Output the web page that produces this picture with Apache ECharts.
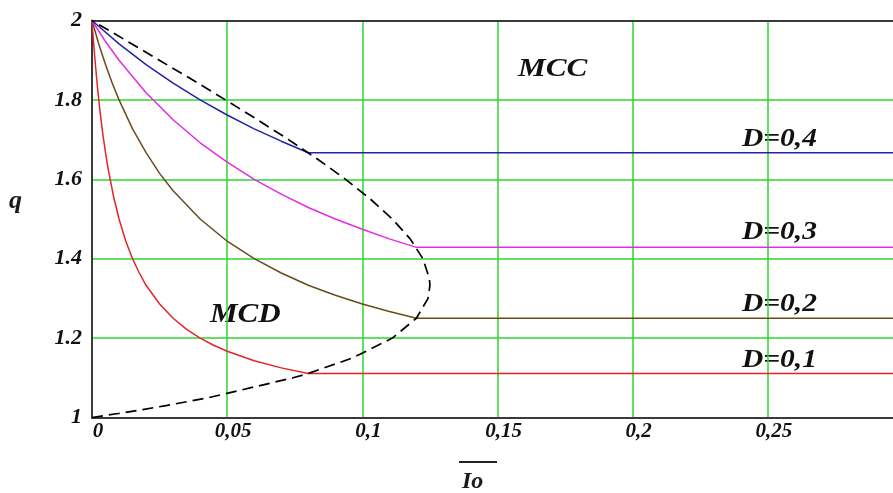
<!DOCTYPE html>
<html>
<head>
<meta charset="utf-8">
<script src="https://cdn.jsdelivr.net/npm/echarts@6/dist/echarts.min.js"></script>
<style>
html,body{margin:0;padding:0;background:#fff;}
#c{width:893px;height:493px;}
</style>
</head>
<body>
<div id="c"></div>
<script>
// x ticks and y ticks
var xTickLabels = ['0', '0,05', '0,1', '0,15', '0,2', '0,25'];
var yTickLabels = ['1', '1.2', '1.4', '1.6', '1.8', '2'];

// D = 0.1 (red)
var ioD1 = [0, 0.0005, 0.001, 0.002, 0.003, 0.004, 0.005, 0.006, 0.008, 0.01, 0.0125, 0.015, 0.0175, 0.02, 0.025, 0.03, 0.035, 0.04, 0.045, 0.05, 0.06, 0.07, 0.08, 0.3];
var qD1  = [2, 1.952, 1.909, 1.833, 1.769, 1.714, 1.667, 1.625, 1.556, 1.5, 1.444, 1.4, 1.364, 1.333, 1.286, 1.25, 1.222, 1.2, 1.182, 1.167, 1.143, 1.125, 1.111, 1.111];
// D = 0.2 (brown)
var ioD2 = [0, 0.0025, 0.005, 0.0075, 0.01, 0.015, 0.02, 0.025, 0.03, 0.04, 0.05, 0.06, 0.07, 0.08, 0.09, 0.1, 0.11, 0.12, 0.3];
var qD2  = [2, 1.941, 1.889, 1.842, 1.8, 1.727, 1.667, 1.615, 1.571, 1.5, 1.444, 1.4, 1.364, 1.333, 1.308, 1.286, 1.267, 1.25, 1.25];
// D = 0.3 (magenta)
var ioD3 = [0, 0.005, 0.01, 0.02, 0.03, 0.04, 0.05, 0.06, 0.07, 0.08, 0.09, 0.1, 0.11, 0.12, 0.3];
var qD3  = [2, 1.947, 1.9, 1.818, 1.75, 1.692, 1.643, 1.6, 1.5625, 1.529, 1.5, 1.474, 1.45, 1.4286, 1.4286];
// D = 0.4 (blue)
var ioD4 = [0, 0.01, 0.02, 0.03, 0.04, 0.05, 0.06, 0.07, 0.08, 0.3];
var qD4  = [2, 1.941, 1.889, 1.842, 1.8, 1.762, 1.727, 1.696, 1.667, 1.667];
// MCC / MCD boundary (dashed)
var ioB = [0, 0.0097, 0.0188, 0.0274, 0.0431, 0.0744, 0.08, 0.0964, 0.1111, 0.12, 0.1243, 0.125, 0.1248, 0.1224, 0.1177, 0.1111, 0.103, 0.0938, 0.0836, 0.0727, 0.0612, 0.0494, 0.0373, 0.0249, 0.0125, 0];
var qB  = [1, 1.01, 1.02, 1.03, 1.05, 1.1, 1.111, 1.15, 1.2, 1.25, 1.3, 1.333, 1.35, 1.4, 1.45, 1.5, 1.55, 1.6, 1.65, 1.7, 1.75, 1.8, 1.85, 1.9, 1.95, 2];

function zip(a, b) { return a.map(function (v, i) { return [v, b[i]]; }); }

var serif = '"Liberation Serif", "Times New Roman", serif';
var chart = echarts.init(document.getElementById('c'), null, {renderer: 'canvas'});

function lineSeries(name, data, color, dashed) {
  return {
    name: name, type: 'line', data: data, showSymbol: false, symbol: 'none',
    smooth: false, animation: false, clip: true,
    lineStyle: {color: color, width: dashed ? 1.7 : 1.5, type: dashed ? [11, 6] : 'solid'},
    z: dashed ? 4 : 3
  };
}

chart.setOption({
  animation: false,
  backgroundColor: '#ffffff',
  grid: {left: 92, top: 20.5, right: 0, bottom: 75.5, show: false},
  xAxis: [{
    type: 'value', min: 0, max: 0.2963, interval: 0.05,
    axisLine: {show: true, onZero: false, lineStyle: {color: '#3a3a3a', width: 2}}, axisTick: {show: false},
    splitLine: {show: true, showMinLine: false, showMaxLine: false, lineStyle: {color: '#2fd42f', width: 1.5}},
    axisLabel: {
      margin: 4, color: '#111', fontFamily: serif, fontStyle: 'italic', fontWeight: 'bold', fontSize: 21,
      padding: [0, 0, 0, 12], showMaxLabel: false,
      formatter: function (v) { var i = Math.round(v / 0.05); return Math.abs(v - i * 0.05) < 1e-6 ? xTickLabels[i] : ''; }
    }
  }, {
    type: 'value', position: 'top', min: 0, max: 0.2963,
    axisLine: {show: true, onZero: false, lineStyle: {color: '#3a3a3a', width: 2}},
    axisTick: {show: false}, axisLabel: {show: false}, splitLine: {show: false}
  }],
  yAxis: {
    type: 'value', min: 1, max: 2, interval: 0.2,
    axisLine: {show: true, onZero: false, lineStyle: {color: '#3a3a3a', width: 2}}, axisTick: {show: false},
    splitLine: {show: true, showMinLine: false, showMaxLine: false, lineStyle: {color: '#2fd42f', width: 1.5}},
    axisLabel: {
      margin: 10, color: '#111', fontFamily: serif, fontStyle: 'italic', fontWeight: 'bold', fontSize: 22,
      formatter: function (v) { return yTickLabels[Math.round((v - 1) / 0.2)]; }
    }
  },
  series: [
    lineSeries('D=0,1', zip(ioD1, qD1), '#e3242b', false),
    lineSeries('D=0,2', zip(ioD2, qD2), '#6b4a1c', false),
    lineSeries('D=0,3', zip(ioD3, qD3), '#e62ae6', false),
    lineSeries('D=0,4', zip(ioD4, qD4), '#2222a8', false),
    lineSeries('boundary', zip(ioB, qB), '#000000', true)
  ],
  graphic: [
    {type: 'text', left: 9, top: 188, style: {text: 'q', font: 'italic bold 26px ' + serif, fill: '#1a1a1a'}},
    {type: 'line', shape: {x1: 459, y1: 462, x2: 497, y2: 462}, style: {stroke: '#222', lineWidth: 2}},
    {type: 'text', x: 462, y: 470, style: {text: 'Io', font: 'italic bold 24px ' + serif, fill: '#1a1a1a'}},
    {type: 'text', x: 518, y: 56, scaleX: 1.2, style: {text: 'MCC', font: 'italic bold 26px ' + serif, fill: '#111'}},
    {type: 'text', x: 210, y: 302, scaleX: 1.15, style: {text: 'MCD', font: 'italic bold 27px ' + serif, fill: '#111'}},
    {type: 'text', x: 742, y: 127, scaleX: 1.18, style: {text: 'D=0,4', font: 'italic bold 25px ' + serif, fill: '#111'}},
    {type: 'text', x: 742, y: 220, scaleX: 1.18, style: {text: 'D=0,3', font: 'italic bold 25px ' + serif, fill: '#111'}},
    {type: 'text', x: 742, y: 292, scaleX: 1.18, style: {text: 'D=0,2', font: 'italic bold 25px ' + serif, fill: '#111'}},
    {type: 'text', x: 742, y: 348, scaleX: 1.18, style: {text: 'D=0,1', font: 'italic bold 25px ' + serif, fill: '#111'}}
  ]
});
</script>
</body>
</html>
